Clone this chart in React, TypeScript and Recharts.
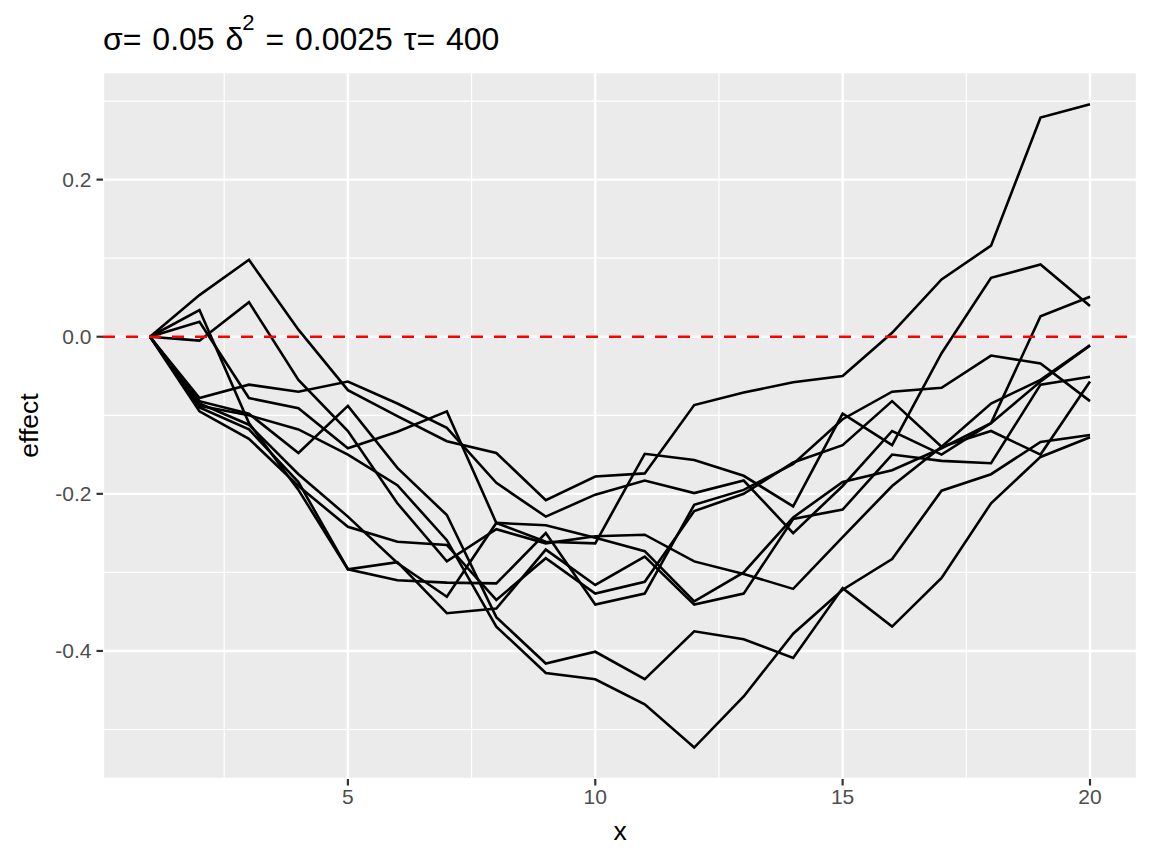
import React from 'react';
import { LineChart, Line, XAxis, YAxis, CartesianGrid, ReferenceLine } from 'recharts';

const xs = [1, 2, 3, 4, 5, 6, 7, 8, 9, 10, 11, 12, 13, 14, 15, 16, 17, 18, 19, 20];

const s1 = [0, 0.053, 0.098, 0.009, -0.068, -0.101, -0.133, -0.148, -0.208, -0.178, -0.174, -0.087, -0.071, -0.058, -0.050, 0.005, 0.073, 0.116, 0.279, 0.296];
const s2 = [0, -0.005, 0.044, -0.055, -0.120, -0.212, -0.286, -0.245, -0.263, -0.254, -0.252, -0.286, -0.302, -0.321, -0.255, -0.190, -0.140, -0.085, -0.055, -0.011];
const s3 = [0, 0.034, -0.110, -0.195, -0.296, -0.310, -0.313, -0.314, -0.250, -0.341, -0.327, -0.214, -0.195, -0.162, -0.105, -0.070, -0.065, -0.024, -0.034, -0.082];
const s4 = [0, 0.019, -0.078, -0.091, -0.142, -0.121, -0.095, -0.237, -0.261, -0.263, -0.149, -0.157, -0.177, -0.216, -0.098, -0.138, -0.021, 0.075, 0.092, 0.039];
const s5 = [0, -0.078, -0.061, -0.070, -0.057, -0.085, -0.116, -0.186, -0.229, -0.201, -0.183, -0.199, -0.183, -0.250, -0.190, -0.120, -0.150, -0.110, 0.026, 0.051];
const s6 = [0, -0.082, -0.098, -0.148, -0.088, -0.167, -0.227, -0.357, -0.416, -0.401, -0.436, -0.375, -0.385, -0.409, -0.320, -0.369, -0.307, -0.212, -0.153, -0.128];
const s7 = [0, -0.085, -0.112, -0.175, -0.229, -0.288, -0.331, -0.237, -0.240, -0.256, -0.273, -0.337, -0.300, -0.230, -0.185, -0.170, -0.142, -0.110, -0.057, -0.011];
const s8 = [0, -0.090, -0.118, -0.185, -0.296, -0.287, -0.352, -0.346, -0.271, -0.316, -0.280, -0.341, -0.327, -0.232, -0.220, -0.150, -0.158, -0.161, -0.061, -0.051];
const s9 = [0, -0.095, -0.130, -0.190, -0.242, -0.261, -0.265, -0.335, -0.282, -0.327, -0.312, -0.222, -0.200, -0.160, -0.138, -0.082, -0.140, -0.120, -0.150, -0.057];
const s10 = [0, -0.088, -0.100, -0.118, -0.150, -0.189, -0.259, -0.369, -0.428, -0.436, -0.468, -0.523, -0.458, -0.378, -0.322, -0.283, -0.196, -0.175, -0.134, -0.125];

const series = [s1, s2, s3, s4, s5, s6, s7, s8, s9, s10];

const xTicks = [5, 10, 15, 20];
const yTicks = [-0.4, -0.2, 0, 0.2];
const xMinor = [2.5, 7.5, 12.5, 17.5];
const yMinor = [-0.5, -0.3, -0.1, 0.1, 0.3];
const xDomain = [0.05, 20.95];
const yDomain = [-0.563, 0.337];

const data = xs.map((x, i) => {
  const row: Record<string, number> = { x };
  series.forEach((s, k) => { row['s' + (k + 1)] = s[i]; });
  return row;
});

const FONT = '"Liberation Sans", Arial, Helvetica, sans-serif';

export default function App() {
  return (
    <div style={{ position: 'absolute', left: 0, top: 0, width: 1152, height: 865, background: '#fff' }}>
      <svg width={1152} height={70} style={{ position: 'absolute', left: 0, top: 0 }}>
        <text x={103} y={50} fontFamily={FONT} fontSize={32} fill="#000" style={{ wordSpacing: 2 }}>
          <tspan>σ= 0.05 δ</tspan>
          <tspan dx={-1} dy={-20} fontSize={22}>2</tspan>
          <tspan dy={20}> = 0.0025 τ= 400</tspan>
        </text>
      </svg>
      <LineChart width={1152} height={865} data={data} margin={{ top: 72, right: 15, bottom: 0, left: 0 }}>
        <CartesianGrid fill="#EBEBEB" stroke="#FFFFFF" strokeWidth={2.4} />
        {xMinor.map((v) => (
          <ReferenceLine key={'xm' + v} x={v} stroke="#FFFFFF" strokeWidth={1.2} />
        ))}
        {yMinor.map((v) => (
          <ReferenceLine key={'ym' + v} y={v} stroke="#FFFFFF" strokeWidth={1.2} />
        ))}
        <XAxis
          dataKey="x"
          type="number"
          domain={xDomain}
          ticks={xTicks}
          allowDataOverflow
          height={86}
          axisLine={false}
          tickLine={{ stroke: '#333333', strokeWidth: 2.2 }}
          tickSize={6.5}
          tickMargin={4}
          tick={{ fill: '#4D4D4D', fontSize: 21, fontFamily: FONT }}
          label={{ value: 'x', position: 'insideBottom', offset: 25, fill: '#000', fontSize: 26.5, fontFamily: FONT }}
        />
        <YAxis
          type="number"
          domain={yDomain}
          ticks={yTicks}
          allowDataOverflow
          width={103}
          axisLine={false}
          tickLine={{ stroke: '#333333', strokeWidth: 2.2 }}
          tickSize={6.5}
          tickMargin={5}
          tickFormatter={(v: number) => v.toFixed(1)}
          tick={{ fill: '#4D4D4D', fontSize: 21, fontFamily: FONT }}
          label={{ value: 'effect', angle: -90, position: 'insideLeft', offset: 29, fill: '#000', fontSize: 26.5, fontFamily: FONT, style: { textAnchor: 'middle' } }}
        />
        {series.map((_, k) => (
          <Line
            key={k}
            type="linear"
            dataKey={'s' + (k + 1)}
            stroke="#000000"
            strokeWidth={2.6}
            dot={false}
            activeDot={false}
            isAnimationActive={false}
          />
        ))}
        <ReferenceLine y={0} stroke="#FF0000" strokeWidth={2.6} strokeDasharray="12 11" />
      </LineChart>
    </div>
  );
}
